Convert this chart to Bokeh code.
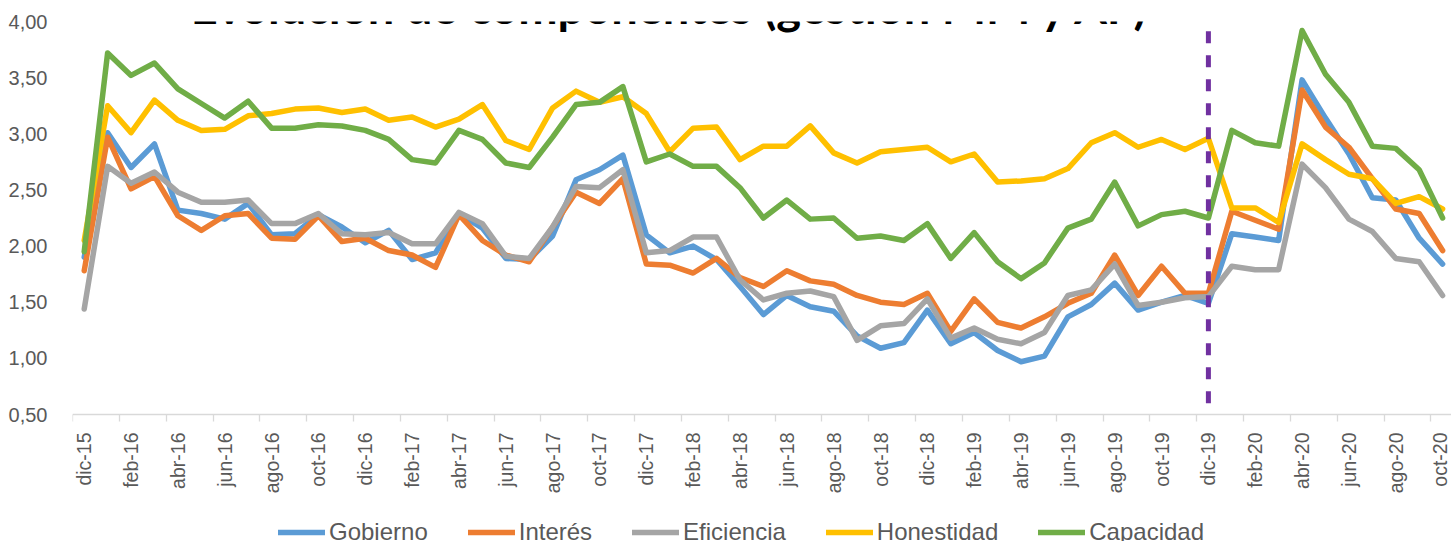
import math
from bokeh.plotting import figure
from bokeh.models import (Range1d, FixedTicker, CustomJSTickFormatter, Legend,
                          LegendItem, Label)
from bokeh.embed import file_html
from bokeh.resources import INLINE

# ---------------- data ----------------
months = ["dic-15",
          "ene-16", "feb-16", "mar-16", "abr-16", "may-16", "jun-16",
          "jul-16", "ago-16", "sep-16", "oct-16", "nov-16", "dic-16",
          "ene-17", "feb-17", "mar-17", "abr-17", "may-17", "jun-17",
          "jul-17", "ago-17", "sep-17", "oct-17", "nov-17", "dic-17",
          "ene-18", "feb-18", "mar-18", "abr-18", "may-18", "jun-18",
          "jul-18", "ago-18", "sep-18", "oct-18", "nov-18", "dic-18",
          "ene-19", "feb-19", "mar-19", "abr-19", "may-19", "jun-19",
          "jul-19", "ago-19", "sep-19", "oct-19", "nov-19", "dic-19",
          "ene-20", "feb-20", "mar-20", "abr-20", "may-20", "jun-20",
          "jul-20", "ago-20", "sep-20", "oct-20"]

gobierno = [1.90, 3.01, 2.70, 2.91, 2.32, 2.29, 2.24, 2.38, 2.10, 2.11, 2.28, 2.17, 2.03,
            2.14, 1.88, 1.94, 2.29, 2.16, 1.89, 1.88, 2.09, 2.59, 2.68, 2.81, 2.10,
            1.94, 2.00, 1.88, 1.64, 1.39, 1.56, 1.46, 1.42, 1.20, 1.09, 1.14, 1.43,
            1.13, 1.23, 1.07, 0.97, 1.02, 1.37, 1.48, 1.67, 1.43, 1.50, 1.56, 1.49,
            2.11, 2.08, 2.05, 3.48, 3.14, 2.82, 2.43, 2.41, 2.07, 1.84]

interes = [1.78, 2.97, 2.51, 2.62, 2.27, 2.14, 2.27, 2.29, 2.07, 2.06, 2.27, 2.04, 2.07,
           1.96, 1.92, 1.81, 2.28, 2.05, 1.92, 1.86, 2.17, 2.48, 2.38, 2.60, 1.84,
           1.83, 1.76, 1.89, 1.72, 1.64, 1.78, 1.69, 1.66, 1.56, 1.50, 1.48, 1.58,
           1.24, 1.53, 1.32, 1.27, 1.37, 1.49, 1.58, 1.92, 1.56, 1.82, 1.58, 1.58,
           2.31, 2.23, 2.15, 3.39, 3.06, 2.88, 2.60, 2.33, 2.29, 1.96]

eficiencia = [1.44, 2.71, 2.56, 2.66, 2.48, 2.39, 2.39, 2.41, 2.20, 2.20, 2.29, 2.11, 2.10,
              2.12, 2.02, 2.02, 2.30, 2.20, 1.91, 1.89, 2.17, 2.53, 2.52, 2.68, 1.94,
              1.96, 2.08, 2.08, 1.70, 1.52, 1.58, 1.60, 1.55, 1.16, 1.29, 1.31, 1.53,
              1.18, 1.27, 1.17, 1.13, 1.23, 1.56, 1.61, 1.84, 1.47, 1.50, 1.54, 1.55,
              1.82, 1.79, 1.79, 2.73, 2.52, 2.24, 2.13, 1.89, 1.86, 1.56]

honestidad = [2.05, 3.25, 3.01, 3.30, 3.12, 3.03, 3.04, 3.16, 3.18, 3.22, 3.23, 3.19, 3.22,
              3.12, 3.15, 3.06, 3.13, 3.26, 2.94, 2.86, 3.23, 3.38, 3.28, 3.33, 3.18,
              2.84, 3.05, 3.06, 2.77, 2.89, 2.89, 3.07, 2.83, 2.74, 2.84, 2.86, 2.88,
              2.75, 2.82, 2.57, 2.58, 2.60, 2.69, 2.92, 3.01, 2.88, 2.95, 2.86, 2.96,
              2.34, 2.34, 2.21, 2.91, 2.77, 2.64, 2.60, 2.38, 2.44, 2.33]

capacidad = [1.95, 3.72, 3.52, 3.63, 3.40, 3.27, 3.14, 3.29, 3.05, 3.05, 3.08, 3.07, 3.03,
             2.95, 2.77, 2.74, 3.03, 2.95, 2.74, 2.70, 2.97, 3.26, 3.28, 3.42, 2.75,
             2.82, 2.71, 2.71, 2.52, 2.25, 2.41, 2.24, 2.25, 2.07, 2.09, 2.05, 2.20,
             1.89, 2.12, 1.86, 1.71, 1.85, 2.16, 2.24, 2.57, 2.18, 2.28, 2.31, 2.25,
             3.03, 2.92, 2.89, 3.92, 3.53, 3.28, 2.89, 2.87, 2.68, 2.25]

series_names = ["Gobierno", "Interés", "Eficiencia", "Honestidad", "Capacidad"]
series_values = [gobierno, interes, eficiencia, honestidad, capacidad]
series_colors = ["#5B9BD5", "#ED7D31", "#A5A5A5", "#FFC000", "#70AD47"]

corte_mes = "dic-19"
corte_y = [0.60, 3.94]

y_ticks = [0.5, 1.0, 1.5, 2.0, 2.5, 3.0, 3.5, 4.0]
y_axis_min = 0.5
title_text = "Evolución de componentes (gestión MM y AF)"

# ---------------- figure ----------------
x = list(range(len(months)))

# frame spans to the bottom of the page; the value axis starts at 0,50
# (112.3 px per unit), the space below holds the month labels and legend
p = figure(width=1451, height=541, output_backend="svg", toolbar_location=None,
           x_range=Range1d(-0.5, 58.38), y_range=Range1d(-0.631, 4.0),
           min_border_left=72, min_border_right=0, min_border_top=21,
           min_border_bottom=0)
p.outline_line_color = None
p.xgrid.visible = False
p.ygrid.visible = False
p.background_fill_color = "white"
p.border_fill_color = "white"

renderers = []
for name, vals, col in zip(series_names, series_values, series_colors):
    r = p.line(x, vals, line_color=col, line_width=5.5, line_join="round",
               line_cap="round")
    renderers.append(r)

cx = months.index(corte_mes)
p.line([cx, cx], corte_y, line_color="#7030A0", line_width=5, line_dash="12 12")

# x axis (drawn at 0,50)
label_idx = list(range(0, len(months), 2))
xa = p.xaxis[0]
xa.fixed_location = y_axis_min
xa.ticker = FixedTicker(ticks=label_idx,
                        minor_ticks=[i - 0.5 for i in label_idx])
xa.major_label_overrides = {i: months[i] for i in label_idx}
xa.major_label_orientation = math.pi / 2
xa.major_tick_out = 0
xa.major_tick_in = 0
xa.minor_tick_out = 7
xa.minor_tick_in = 0
xa.minor_tick_line_color = "#D9D9D9"
xa.minor_tick_line_width = 1.3
xa.axis_line_color = "#D9D9D9"
xa.axis_line_width = 1.3
xa.major_label_text_font = "Liberation Sans"
xa.major_label_text_font_size = "19.5px"
xa.major_label_text_color = "#595959"
xa.major_label_standoff = 11

# y axis
ya = p.yaxis[0]
ya.ticker = FixedTicker(ticks=y_ticks)
ya.formatter = CustomJSTickFormatter(code="return tick.toFixed(2).replace('.', ',');")
ya.axis_line_color = None
ya.major_tick_line_color = None
ya.minor_tick_line_color = None
ya.major_label_text_font = "Liberation Sans"
ya.major_label_text_font_size = "20px"
ya.major_label_text_color = "#595959"
ya.major_label_standoff = 19

# legend (at the page bottom, partly cut as in the reference)
legend = Legend(items=[LegendItem(label=n, renderers=[r])
                       for n, r in zip(series_names, renderers)],
                orientation="horizontal", location=(206, -5.5),
                glyph_width=47, glyph_height=30, label_height=30,
                label_standoff=4, spacing=40, padding=0, margin=0,
                border_line_color=None, background_fill_alpha=0,
                label_text_font="Liberation Sans", label_text_font_size="24px",
                label_text_color="#595959", label_text_baseline="middle")
p.add_layout(legend)

# title (partly cut at the top of the page, as in the reference)
title = Label(x=598, y=536, x_units="screen", y_units="screen", text=title_text,
              text_align="center", text_baseline="alphabetic",
              text_font="Lato", text_font_style="bold", text_font_size="47px",
              text_color="black")
p.add_layout(title)

open("out.html", "w").write(file_html(p, INLINE))
